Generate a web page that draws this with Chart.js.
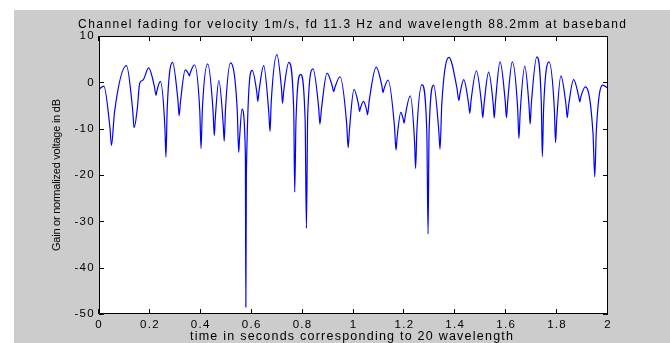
<!DOCTYPE html>
<html><head><meta charset="utf-8">
<script src="https://cdn.jsdelivr.net/npm/chart.js@4.4.1/dist/chart.umd.min.js"></script>
<style>html,body{margin:0;padding:0;background:#fff;overflow:hidden}#wrap{width:670px;height:343px;position:relative}</style>
</head><body><div id="wrap"><canvas id="c" width="670" height="343"></canvas></div>
<script>
const times = [0.000,0.019,0.043,0.049,0.061,0.108,0.132,0.138,0.150,0.160,
0.173,0.195,0.218,0.224,0.227,0.241,0.259,0.263,0.268,0.289,
0.310,0.315,0.320,0.339,0.352,0.355,0.359,0.375,0.396,0.401,
0.406,0.427,0.448,0.453,0.457,0.471,0.488,0.492,0.497,0.517,
0.543,0.549,0.552,0.562,0.575,0.577,0.579,0.602,0.620,0.624,
0.629,0.647,0.667,0.672,0.677,0.699,0.717,0.721,0.726,0.746,
0.765,0.769,0.774,0.792,0.810,0.815,0.820,0.841,0.863,0.868,
0.874,0.896,0.917,0.922,0.927,0.947,0.973,0.979,0.984,1.002,
1.020,1.024,1.027,1.039,1.052,1.055,1.062,1.089,1.111,1.116,
1.120,1.136,1.161,1.167,1.171,1.186,1.196,1.199,1.204,1.223,
1.240,1.244,1.249,1.269,1.288,1.293,1.297,1.315,1.335,1.340,
1.347,1.375,1.406,1.414,1.418,1.433,1.452,1.457,1.462,1.483,
1.503,1.508,1.513,1.531,1.549,1.553,1.558,1.576,1.596,1.601,
1.606,1.624,1.645,1.650,1.655,1.673,1.690,1.694,1.699,1.720,
1.738,1.742,1.747,1.768,1.789,1.794,1.798,1.815,1.835,1.840,
1.845,1.865,1.884,1.889,1.893,1.911,1.941,1.948,1.954,1.979,
2.000];
const gains = [-1.5,-0.8,-9.8,-13.6,-6.4,3.6,-5.8,-9.8,-5.9,-0.2,
0.5,3.1,-1.0,-2.8,-2.0,0.2,-9.8,-16.1,-5.7,4.3,
-3.8,-7.2,-4.3,2.7,1.8,1.4,2.1,3.8,-6.2,-14.3,
-6.0,4.0,-6.0,-11.5,-7.7,0.4,-9.0,-12.7,-5.8,4.2,
-5.8,-15.1,-12.3,-5.8,-15.0,-48.5,-19.8,2.6,-2.1,-4.1,
-1.8,3.6,-6.4,-10.6,-4.0,6.0,-1.3,-4.5,-1.8,4.3,
-5.7,-23.7,-8.3,1.7,-8.3,-31.5,-7.1,2.9,-5.4,-9.0,
-5.8,2.0,-0.9,-2.0,-1.1,1.2,-8.8,-14.1,-10.3,-1.5,
-4.9,-6.3,-5.6,-4.1,-6.1,-7.0,-3.9,3.3,-0.6,-2.2,
-1.4,0.5,-9.5,-14.6,-12.1,-6.5,-8.1,-8.8,-7.0,-2.9,
-12.9,-18.6,-10.5,-0.5,-10.5,-32.7,-10.6,-0.6,-10.3,-14.4,
-4.6,5.4,-1.1,-3.9,-2.6,0.6,-4.5,-6.7,-3.9,2.5,
-4.6,-7.6,-4.7,2.2,-4.7,-7.7,-4.1,4.4,-4.0,-7.6,
-4.0,4.4,-5.6,-12.1,-6.5,3.5,-5.3,-9.0,-4.5,5.5,
-4.5,-16.0,-5.6,4.4,-5.6,-13.0,-8.6,1.4,-4.9,-7.6,
-5.1,0.6,-2.8,-4.2,-3.2,-1.0,-11.0,-20.4,-10.6,-0.6,
-1.3];
const xTickValues = [0,0.2,0.4,0.6,0.8,1,1.2,1.4,1.6,1.8,2];
const xTickLabels = ['0','0.2','0.4','0.6','0.8','1','1.2','1.4','1.6','1.8','2'];
const yTickValues = [-50,-40,-30,-20,-10,0,10];
const yTickLabels = ['-50','-40','-30','-20','-10','0','10'];
const titleText = 'Channel fading for velocity 1m/s, fd 11.3 Hz and wavelength 88.2mm at baseband';
const xLabelText = 'time in seconds corresponding to 20 wavelength';
const yLabelText = 'Gain or normalized voltage in dB';

const FONT = "'Liberation Sans', Arial, Helvetica, sans-serif";

function drawFitted(ctx, text, cx, baseY, size, targetW, rot) {
  ctx.save();
  ctx.font = size + 'px ' + FONT;
  ctx.letterSpacing = '0px';
  const w = ctx.measureText(text).width;
  const sp = (targetW - w) / (text.length - 1);
  ctx.letterSpacing = sp + 'px';
  ctx.fillStyle = '#000';
  ctx.textAlign = 'left';
  ctx.textBaseline = 'alphabetic';
  ctx.translate(cx, baseY);
  if (rot) ctx.rotate(rot);
  ctx.fillText(text, -targetW / 2, 0);
  ctx.restore();
}

const matlabPlugin = {
  id: 'matlab',
  beforeDraw(chart) {
    const ctx = chart.ctx, a = chart.chartArea;
    ctx.save();
    ctx.fillStyle = '#ffffff';
    ctx.fillRect(0, 0, chart.width, chart.height);
    ctx.fillStyle = '#cccccc';
    ctx.fillRect(14, 10, chart.width - 14, chart.height - 10);
    ctx.fillStyle = '#ffffff';
    ctx.fillRect(a.left, a.top, a.right - a.left, a.bottom - a.top);
    ctx.restore();
    ctx.letterSpacing = '1.3px';
  },
  afterDraw(chart) {
    const ctx = chart.ctx, a = chart.chartArea;
    const xs = chart.scales.x, ys = chart.scales.y;
    ctx.save();
    ctx.letterSpacing = '0px';
    ctx.strokeStyle = '#000';
    ctx.lineWidth = 1;
    ctx.beginPath();
    ctx.rect(a.left + 0.5, a.top + 0.5, a.right - a.left - 1, a.bottom - a.top - 1);
    const TL = 5;
    xTickValues.forEach(v => {
      const px = Math.round(xs.getPixelForValue(v)) - 0.5;
      ctx.moveTo(px, a.bottom); ctx.lineTo(px, a.bottom - TL);
      ctx.moveTo(px, a.top); ctx.lineTo(px, a.top + TL);
    });
    yTickValues.forEach(v => {
      const py = Math.round(ys.getPixelForValue(v)) + 0.5;
      ctx.moveTo(a.left, py); ctx.lineTo(a.left + TL, py);
      ctx.moveTo(a.right, py); ctx.lineTo(a.right - TL, py);
    });
    ctx.stroke();
    ctx.restore();
    drawFitted(ctx, titleText, 352, 28, 12, 548, 0);
    drawFitted(ctx, xLabelText, 351.5, 340, 12.5, 323, 0);
    drawFitted(ctx, yLabelText, 59.5, 175, 11, 152, -Math.PI / 2);
  }
};

const points = times.map((t, i) => ({ x: t, y: gains[i] }));

new Chart(document.getElementById('c'), {
  type: 'line',
  data: {
    datasets: [{
      data: points,
      borderColor: '#0000ff',
      borderWidth: 1.2,
      pointRadius: 0,
      fill: false,
      cubicInterpolationMode: 'monotone'
    }]
  },
  options: {
    responsive: false,
    animation: false,
    events: [],
    layout: { padding: { left: 0, right: 62, top: 36, bottom: 0 } },
    plugins: { legend: { display: false }, tooltip: { enabled: false }, title: { display: false } },
    scales: {
      x: {
        type: 'linear', min: 0, max: 2,
        afterBuildTicks(axis) { axis.ticks = xTickValues.map(v => ({ value: v })); },
        afterFit(axis) { axis.height = 29; },
        grid: { display: false, drawTicks: false },
        border: { display: false },
        ticks: {
          autoSkip: false, maxRotation: 0, padding: 4,
          color: '#000', font: { family: FONT, size: 11.5 },
          callback: (v, i) => xTickLabels[i]
        }
      },
      y: {
        type: 'linear', min: -50, max: 10,
        afterBuildTicks(axis) { axis.ticks = yTickValues.map(v => ({ value: v })); },
        afterFit(axis) { axis.width = 99; },
        grid: { display: false, drawTicks: false },
        border: { display: false },
        ticks: {
          autoSkip: false, padding: 4,
          color: '#000', font: { family: FONT, size: 11.5 },
          callback: (v, i) => yTickLabels[i]
        }
      }
    }
  },
  plugins: [matlabPlugin]
});
</script></body></html>
